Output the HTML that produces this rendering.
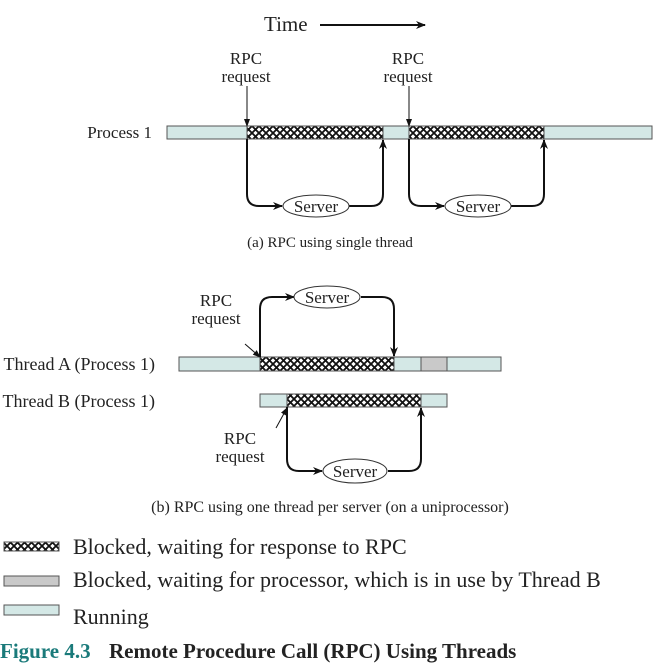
<!DOCTYPE html>
<html><head><style>body{margin:0;background:#fff}svg{display:block}</style></head><body>
<svg width="660" height="664" viewBox="0 0 660 664" xmlns="http://www.w3.org/2000/svg" font-family="Liberation Serif, serif" fill="#222">
<defs>
<pattern id="x" width="7" height="7" patternUnits="userSpaceOnUse">
<rect width="7" height="7" fill="#fff"/>
<path d="M0 0L7 7M7 0L0 7" stroke="#111" stroke-width="1.8"/>
</pattern>
<marker id="a" markerWidth="10" markerHeight="10" refX="9" refY="5" orient="auto" markerUnits="userSpaceOnUse"><path d="M0 1L10 5L0 9L3 5Z" fill="#111"/></marker>
<marker id="s" markerWidth="8" markerHeight="8" refX="7" refY="4" orient="auto" markerUnits="userSpaceOnUse"><path d="M0 1L8 4L0 7Z" fill="#111"/></marker>
</defs>
<g stroke="#555" stroke-width="1">
<rect x="167" y="126" width="485" height="13" fill="#d4e8e6"/>
<rect x="247" y="126" width="136" height="13" fill="url(#x)"/>
<rect x="409" y="126" width="135" height="13" fill="url(#x)"/>
<rect x="179" y="357" width="322" height="14" fill="#d4e8e6"/>
<rect x="260" y="357" width="134" height="14" fill="url(#x)"/>
<rect x="421" y="357" width="26" height="14" fill="#c9c9c9"/>
<rect x="260" y="394" width="187" height="13" fill="#d4e8e6"/>
<rect x="287" y="394" width="134" height="13" fill="url(#x)"/>
</g>
<text x="264" y="31" font-size="21">Time</text>
<line x1="320" y1="25" x2="425" y2="25" stroke="#111" stroke-width="2" marker-end="url(#a)"/>
<g font-size="17" text-anchor="middle">
<text x="246" y="64">RPC</text><text x="246" y="82">request</text>
<text x="408" y="64">RPC</text><text x="408" y="82">request</text>
<text x="216" y="306">RPC</text><text x="216" y="324">request</text>
<text x="240" y="444">RPC</text><text x="240" y="462">request</text>
</g>
<text x="152" y="138" font-size="17" text-anchor="end">Process 1</text>
<g font-size="18" text-anchor="end">
<text x="155" y="370">Thread A (Process 1)</text>
<text x="155" y="407">Thread B (Process 1)</text>
</g>
<g stroke="#111" stroke-width="1" fill="none">
<line x1="247" y1="86" x2="247" y2="126" marker-end="url(#s)"/>
<line x1="409" y1="86" x2="409" y2="126" marker-end="url(#s)"/>
<line x1="245" y1="344" x2="260" y2="357" marker-end="url(#s)"/>
<line x1="276" y1="428" x2="287" y2="408" marker-end="url(#s)"/>
</g>
<g stroke="#111" stroke-width="2" fill="none">
<path d="M247 139V194Q247 206 259 206H282" marker-end="url(#a)"/>
<path d="M349 206H371Q383 206 383 194V140" marker-end="url(#a)"/>
<path d="M409 139V194Q409 206 421 206H444" marker-end="url(#a)"/>
<path d="M511 206H532Q544 206 544 194V140" marker-end="url(#a)"/>
<path d="M260 357V309Q260 297 272 297H294" marker-end="url(#a)"/>
<path d="M361 297H382Q394 297 394 309V356" marker-end="url(#a)"/>
<path d="M287 407V459Q287 471 299 471H322" marker-end="url(#a)"/>
<path d="M388 471H409Q421 471 421 459V408" marker-end="url(#a)"/>
</g>
<g stroke="#333" stroke-width="1" fill="#fff">
<ellipse cx="316" cy="206" rx="33" ry="11"/>
<ellipse cx="478" cy="206" rx="33" ry="11"/>
<ellipse cx="327" cy="297" rx="33" ry="11"/>
<ellipse cx="355" cy="471" rx="32" ry="12"/>
</g>
<g font-size="17" text-anchor="middle">
<text x="316" y="212">Server</text><text x="478" y="212">Server</text>
<text x="327" y="303">Server</text><text x="355" y="477">Server</text>
</g>
<text x="330" y="247" font-size="15" text-anchor="middle">(a) RPC using single thread</text>
<text x="330" y="512" font-size="16" text-anchor="middle">(b) RPC using one thread per server (on a uniprocessor)</text>
<g stroke="#555" stroke-width="1">
<rect x="4" y="542" width="55" height="9" fill="url(#x)"/>
<rect x="4" y="576" width="55" height="10" fill="#c9c9c9"/>
<rect x="4" y="605" width="55" height="10" fill="#d4e8e6"/>
</g>
<g font-size="22">
<text x="73" y="554">Blocked, waiting for response to RPC</text>
<text x="73" y="587">Blocked, waiting for processor, which is in use by Thread B</text>
<text x="73" y="624">Running</text>
</g>
<text x="0" y="658" font-size="21" font-weight="bold"><tspan fill="#1a7a7a">Figure 4.3</tspan><tspan x="109">Remote Procedure Call (RPC) Using Threads</tspan></text>
</svg>
</body></html>
